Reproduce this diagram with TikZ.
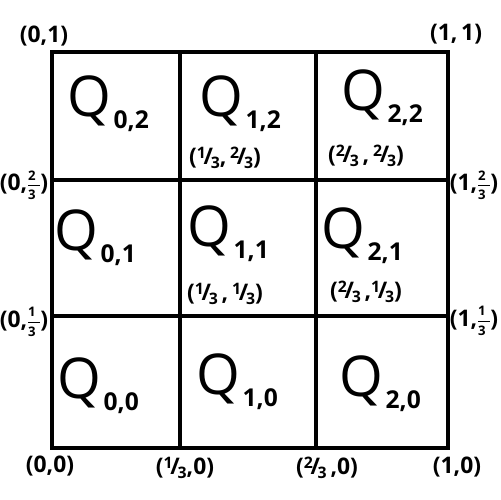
\documentclass[tikz,border=0pt]{standalone}
\usepackage{fontspec}
\setmainfont{Open Sans}
\newcommand{\sfr}[2]{\raisebox{0.45ex}{\fontsize{9}{9}\selectfont #1}\kern-0.1em/\kern-0.1em\raisebox{-0.35ex}{\fontsize{9}{9}\selectfont #2}}
\newcommand{\vfr}[2]{\kern0.5pt$\vcenter{\hbox{\fontsize{7.5}{7.5}\selectfont #1}\kern2.6pt\hrule width 0.5em\kern2.6pt\hbox{\fontsize{7.5}{7.5}\selectfont #2}}$\kern0.5pt}
\newcommand{\Qlab}[1]{Q\kern1.5pt\raisebox{-7pt}{\fontsize{14}{14}\selectfont\bfseries #1}}
\begin{document}
\begin{tikzpicture}[x=0.02cm,y=-0.02cm,
  gridline/.style={line width=2.6pt, line cap=rect},
  qlab/.style={font=\fontsize{32}{32}\selectfont, inner sep=0pt},
  clab/.style={font=\fontsize{13}{13}\selectfont\bfseries, inner sep=0pt},
  elab/.style={font=\fontsize{13}{13}\selectfont\bfseries, inner sep=0pt}]
\useasboundingbox (0,0) rectangle (500,500);
\fill[white] (0,0) rectangle (500,500);
% grid
\draw[gridline] (52,52) rectangle (448,448);
\draw[gridline] (180,52) -- (180,448);
\draw[gridline] (316,52) -- (316,448);
\draw[gridline] (52,180) -- (448,180);
\draw[gridline] (52,316) -- (448,316);
% corner / edge labels
\node[elab] (p01) at (44,36) {(0,1)};
\node[elab] (p11) at (456,34) {(1,\,1)};
\node[elab] (p0b) at (24,185) {(0,\vfr{2}{3})};
\node[elab] (p1b) at (474,185) {(1,\vfr{2}{3})};
\node[elab] (p0a) at (24,322) {(0,\vfr{1}{3})};
\node[elab] (p1a) at (474,321) {(1,\vfr{1}{3})};
\node[elab] (p00) at (50,466) {(0,0)};
\node[elab] (pa0) at (185,468) {(\sfr{1}{3},0)};
\node[elab] (pb0) at (327,468) {(\sfr{2}{3}\,,0)};
\node[elab] (p10) at (457,467) {(1,0)};
% cell labels
\node[qlab] (q02) at (108,104) {\Qlab{0,2}};
\node[qlab] (q12) at (240,104) {\Qlab{1,2}};
\node[qlab] (q22) at (382,98) {\Qlab{2,2}};
\node[qlab] (q01) at (95,238) {\Qlab{0,1}};
\node[qlab] (q11) at (228,234) {\Qlab{1,1}};
\node[qlab] (q21) at (362,236) {\Qlab{2,1}};
\node[qlab] (q00) at (98,386) {\Qlab{0,0}};
\node[qlab] (q10) at (237,382) {\Qlab{1,0}};
\node[qlab] (q20) at (380,384) {\Qlab{2,0}};
% interior coordinates
\node[clab] (c12) at (225,158) {(\sfr{1}{3},\,\sfr{2}{3})};
\node[clab] (c22) at (366,156) {(\sfr{2}{3}\,,\,\sfr{2}{3})};
\node[clab] (c11) at (225,294) {(\sfr{1}{3}\,,\,\sfr{1}{3})};
\node[clab] (c21) at (366,292) {(\sfr{2}{3}\,,\sfr{1}{3})};
\end{tikzpicture}
\end{document}
